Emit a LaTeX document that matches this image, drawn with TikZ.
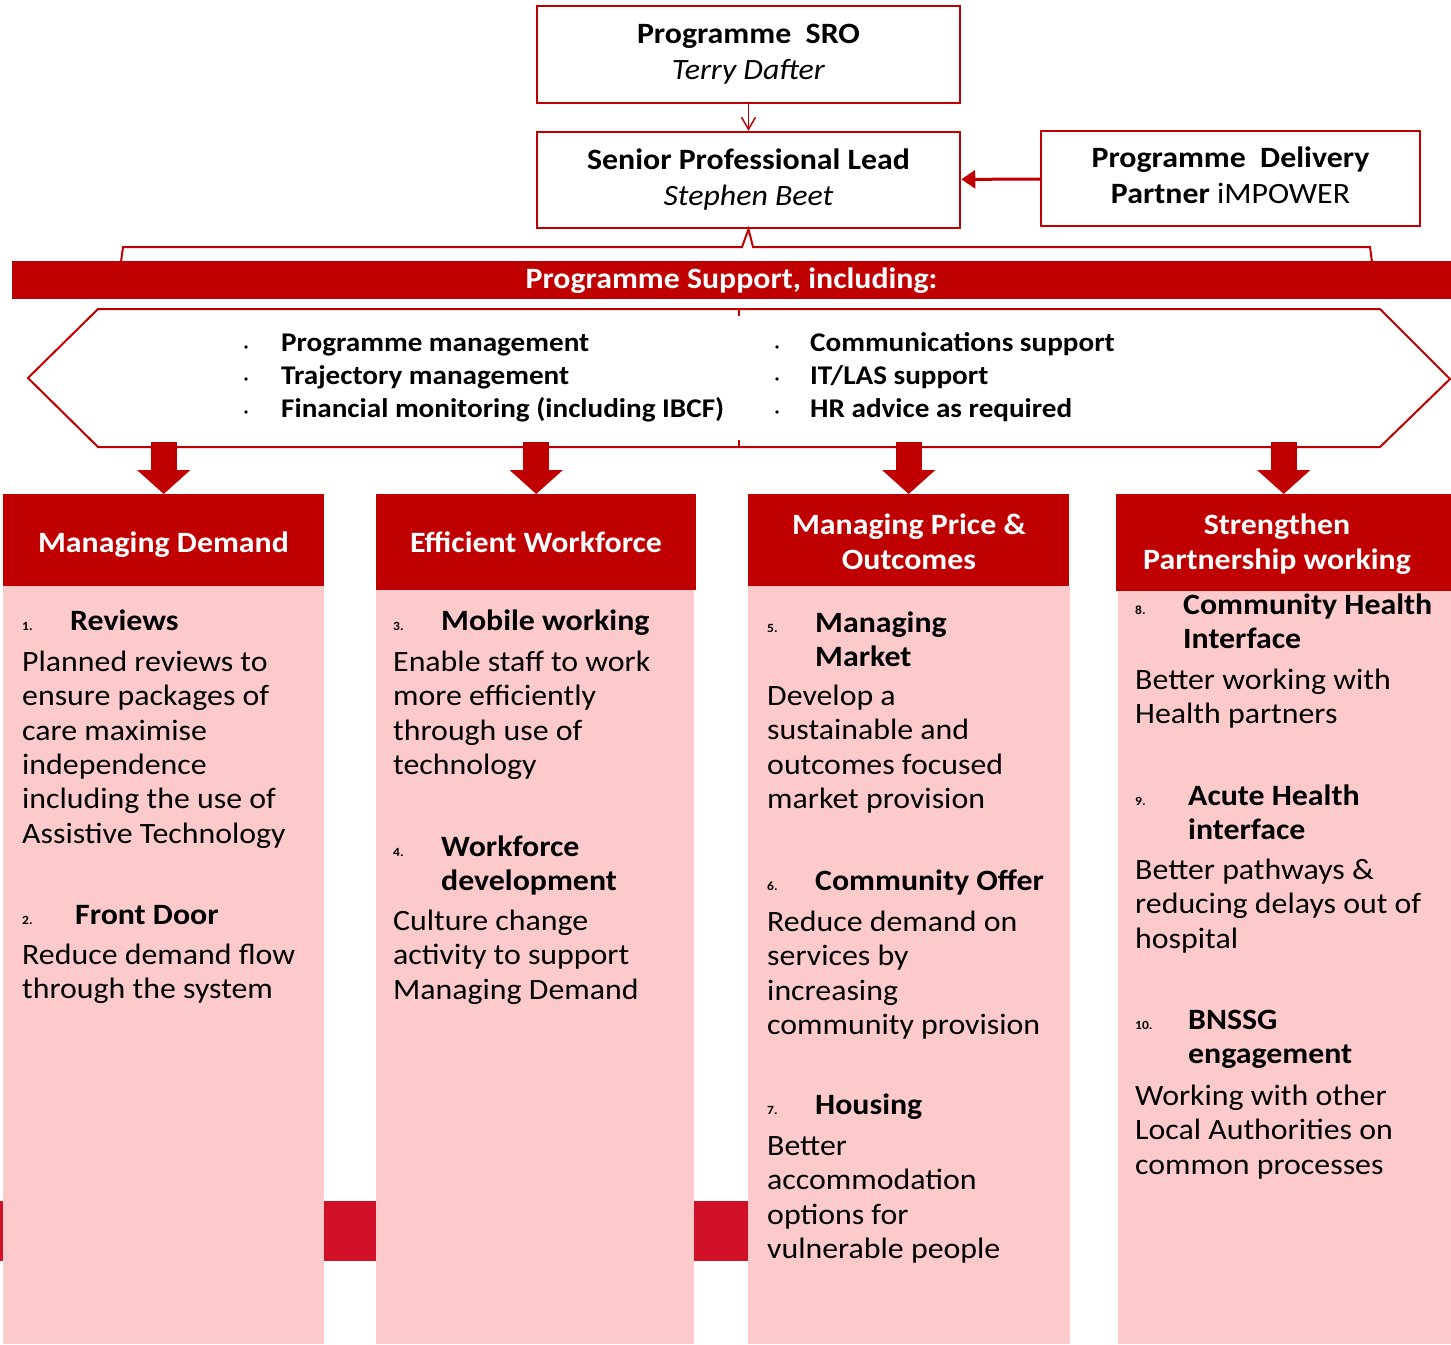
\documentclass[tikz,border=0pt]{standalone}
\usepackage{fontspec}
\setmainfont{Carlito}[FakeStretch=1.08]
\usepackage{tikz}
\usetikzlibrary{arrows.meta}

\definecolor{darkred}{RGB}{192,0,0}
\definecolor{pinkfill}{RGB}{252,202,202}
\definecolor{crimson}{RGB}{208,17,39}
\newcommand\bodyfont{\fontsize{29.5}{34.4}\selectfont}
\newcommand\listfont{\fontsize{27}{33}\selectfont\bfseries}
\newcommand\numfont{\fontsize{12.5}{14}\selectfont\bfseries}

\begin{document}
\begin{tikzpicture}[x=1pt, y=-1pt,
    topbox/.style={draw=darkred, line width=2.5pt, minimum width=423pt, minimum height=97pt, align=center, inner sep=0pt, font=\fontsize{29.5}{36}\selectfont},
    headbox/.style={fill=darkred, anchor=north west, minimum width=321pt, minimum height=92pt, inner sep=0pt},
    headtext/.style={text=white, align=center, inner sep=0pt, font=\bodyfont\bfseries},
    bodybox/.style={fill=pinkfill, anchor=north west, inner sep=0pt},
    para/.style={anchor=north west, align=left, inner sep=0pt, font=\bodyfont},
    itemtitle/.style={para, font=\bodyfont\bfseries},
    itemnum/.style={anchor=base west, inner sep=0pt, font=\numfont},
    bigarrow/.style={draw=darkred, line width=26pt, -{Triangle[length=24pt, width=52pt]}}]
    \useasboundingbox (0,0) rectangle (1451,1344);

    \node [topbox] (sro) at (748.5,54.5) {\strut\textbf{Programme\ \ SRO}\\\textit{Terry Dafter}\strut};
    \node [topbox, minimum height=96pt] (spl) at (748.5,180) {\strut\textbf{Senior Professional Lead}\\\textit{Stephen Beet}\strut};
    \node [topbox, minimum width=379pt, minimum height=95pt] (idp) at (1230.5,178.5) {\strut\textbf{Programme\ \ Delivery}\\\textbf{Partner} iMPOWER\strut};
    \draw [darkred, line width=1.5pt, -{Straight Barb[length=12pt, width=14pt]}] (sro) to (spl);
    \draw [darkred, line width=3pt, -{Triangle[length=14pt, width=18pt]}] (idp) to (spl);

    \coordinate (brL) at (121,262);
    \coordinate (brR) at (1372,262);
    \draw [darkred, line width=2pt] (brL) -- (123,247) -- (742,247) -- (spl.south) -- (753,247) -- (1370,247) -- (brR);
    \node [fill=darkred, minimum width=1439pt, minimum height=38pt, inner sep=0pt, text=white, text height=21pt, text depth=5pt, font=\bodyfont\bfseries] (support) at (731.5,280) {Programme Support, including:};

    \draw [darkred, line width=2pt, fill=white] (98,309) -- (1380,309) -- (1450,379) -- (1380,447) -- (98,447) -- (28,378) -- cycle;
    \draw [darkred, line width=1.5pt] (739,309) -- (739,316) (739,440) -- (739,447);
    \node [anchor=north west, align=left, inner sep=0pt, font=\listfont] (listL) at (281,328.6) {\strut Programme management\\Trajectory management\\Financial monitoring (including IBCF)};
    \node [anchor=north west, align=left, inner sep=0pt, font=\listfont] (listR) at (810,328.6) {\strut Communications support\\IT/LAS support\\HR advice as required};
    \foreach \y in {347,379,412} {
        \fill (246,\y) circle (1.8pt);
        \fill (777,\y) circle (1.8pt);
    }

    \fill [crimson] (0,1201) rectangle (4,1261);
    \fill [crimson] (324,1201) rectangle (376,1261);
    \fill [crimson] (694,1201) rectangle (748,1261);

    \node [bodybox, minimum width=321pt, minimum height=758pt] (bd1) at (3,586) {};
    \node [bodybox, minimum width=318pt, minimum height=754pt] (bd2) at (376,590) {};
    \node [bodybox, minimum width=322pt, minimum height=758pt] (bd3) at (748,586) {};
    \node [bodybox, minimum width=333pt, minimum height=753pt] (bd4) at (1118,591) {};
    \node [headbox] (hd1) at (3,494) {};
    \node [headbox, minimum width=320pt, minimum height=96pt] (hd2) at (376,494) {};
    \node [headbox] (hd3) at (748,494) {};
    \node [headbox, minimum width=335pt, minimum height=97pt] (hd4) at (1116,494) {};
    \foreach \n in {1,...,4}
        \draw [bigarrow] ([yshift=52pt]hd\n.north) -- (hd\n.north);

    \node [headtext] (ht1) at (163.5,546) {\strut Managing Demand};
    \node [headtext] (ht2) at (536,546) {\strut Efficient Workforce};
    \node [headtext] (ht3) at (909,545.3) {\strut Managing Price \&\\Outcomes\strut};
    \node [headtext] (ht4) at (1277,545.3) {\strut Strengthen\\Partnership working\strut};

    \node [itemnum] (n1) at (22,630) {1.};
    \node [itemtitle] (t1) at (70,606) {\strut Reviews};
    \node [para] (p1) at (22,647) {\strut Planned reviews to\\ensure packages of\\care maximise\\independence\\including the use of\\Assistive Technology};
    \node [itemnum] (n2) at (22,924) {2.};
    \node [itemtitle] (t2) at (75,900) {\strut Front Door};
    \node [para] (p2) at (22,940) {\strut Reduce demand flow\\through the system};

    \node [itemnum] (n3) at (393,630) {3.};
    \node [itemtitle] (t3) at (441,606) {\strut Mobile working};
    \node [para] (p3) at (393,647) {\strut Enable staff to work\\more efficiently\\through use of\\technology};
    \node [itemnum] (n4) at (393,856) {4.};
    \node [itemtitle] (t4) at (441,832) {\strut Workforce\\development};
    \node [para] (p4) at (393,906) {\strut Culture change\\activity to support\\Managing Demand};

    \node [itemnum] (n5) at (767,632) {5.};
    \node [itemtitle] (t5) at (815,608) {\strut Managing\\Market};
    \node [para] (p5) at (767,681) {\strut Develop a\\sustainable and\\outcomes focused\\market provision};
    \node [itemnum] (n6) at (767,890) {6.};
    \node [itemtitle] (t6) at (815,866) {\strut Community Offer};
    \node [para] (p6) at (767,907) {\strut Reduce demand on\\services by\\increasing\\community provision};
    \node [itemnum] (n7) at (767,1114) {7.};
    \node [itemtitle] (t7) at (815,1090) {\strut Housing};
    \node [para] (p7) at (767,1131) {\strut Better\\accommodation\\options for\\vulnerable people};

    \node [itemnum] (n8) at (1135,614) {8.};
    \node [itemtitle] (t8) at (1183,590) {\strut Community Health\\Interface};
    \node [para] (p8) at (1135,665) {\strut Better working with\\Health partners};
    \node [itemnum] (n9) at (1135,805) {9.};
    \node [itemtitle] (t9) at (1188,781) {\strut Acute Health\\interface};
    \node [para] (p9) at (1135,855) {\strut Better pathways \&\\reducing delays out of\\hospital};
    \node [itemnum] (n10) at (1135,1029) {10.};
    \node [itemtitle] (t10) at (1188,1005) {\strut BNSSG\\engagement};
    \node [para] (p10) at (1135,1081) {\strut Working with other\\Local Authorities on\\common processes};
\end{tikzpicture}
\end{document}
